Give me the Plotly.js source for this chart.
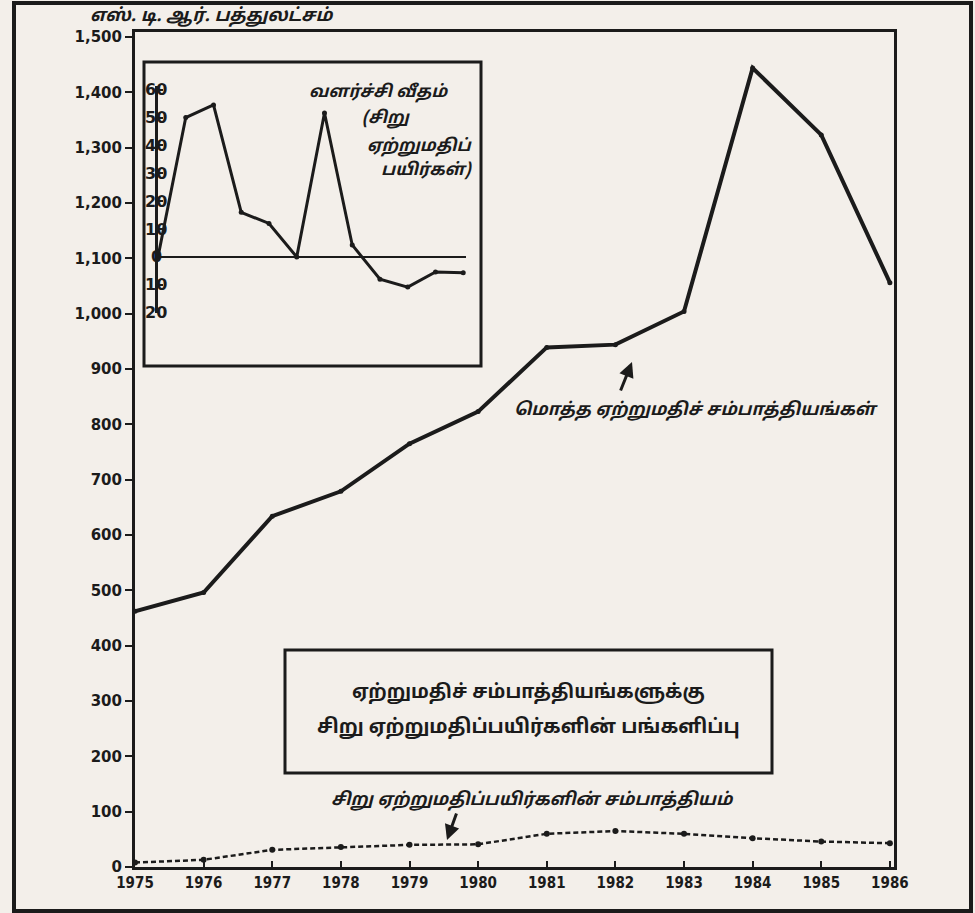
<!DOCTYPE html>
<html>
<head>
<meta charset="utf-8">
<script src="https://cdn.plot.ly/plotly-3.0.1.min.js"></script>
<style>html,body{margin:0;padding:0;background:#f3efea;}#chart{width:975px;height:913px;}</style>
</head>
<body>
<div id="chart"></div>
<script>
// ---- data ----
const years = [1975,1976,1977,1978,1979,1980,1981,1982,1983,1984,1985,1986];
const totalExportEarnings = [462,496,634,679,765,823,939,944,1004,1444,1323,1056];
const minorCropEarnings = [8,13,31,36,40,41,60,65,60,52,46,43];
const minorCropGrowth = [0,50,54.5,16,12,0,51.6,4.3,-8,-10.8,-5.4,-5.7];
const mainYTicks = [0,100,200,300,400,500,600,700,800,900,1000,1100,1200,1300,1400,1500];
const mainYTickText = ["0","100","200","300","400","500","600","700","800","900","1,000","1,100","1,200","1,300","1,400","1,500"];
const insetYTicks = [-20,-10,0,10,20,30,40,50,60];
const insetYTickText = ["20","10","0","10","20","30","40","50","60"];
const yTitle = "எஸ். டி. ஆர். பத்துலட்சம்";
const insetTitle = ["வளர்ச்சி வீதம்","(சிறு","ஏற்றுமதிப்","பயிர்கள்)"];
const totalLabel = "மொத்த ஏற்றுமதிச் சம்பாத்தியங்கள்";
const minorLabel = "சிறு ஏற்றுமதிப்பயிர்களின் சம்பாத்தியம்";
const boxTitle = ["ஏற்றுமதிச் சம்பாத்தியங்களுக்கு","சிறு ஏற்றுமதிப்பயிர்களின் பங்களிப்பு"];

// ---- layout helpers (pixel -> paper) ----
const L=135, R=81, T=32, B=46, W=975, H=913;
const PW=W-L-R, PH=H-T-B;
const px = x => (x-L)/PW;
const py = y => (H-B-y)/PH;
const ink = '#1b1b1b';
const tamilFont = '"Noto Sans Tamil","Lohit Tamil","Noto Sans",sans-serif';

const traces = [
  {x: years, y: totalExportEarnings, type:'scatter', mode:'lines+markers',
   line:{color:ink, width:4}, marker:{color:ink, size:5}, xaxis:'x', yaxis:'y', hoverinfo:'skip'},
  {x: years, y: minorCropEarnings, type:'scatter', mode:'lines+markers',
   line:{color:ink, width:2.5, dash:'5px,3px'}, marker:{color:ink, size:6}, xaxis:'x', yaxis:'y', hoverinfo:'skip'},
  {x: years, y: minorCropGrowth, type:'scatter', mode:'lines+markers',
   line:{color:ink, width:3}, marker:{color:ink, size:5}, xaxis:'x2', yaxis:'y2', hoverinfo:'skip'}
];

const insetTickAnnotations = insetYTicks.map((v, i) => ({
  xref:'paper', yref:'y2', x:px(156), y:v, xanchor:'center', yanchor:'middle', showarrow:false,
  text:'<b>'+insetYTickText[i]+'</b>',
  font:{family:'"DejaVu Sans",sans-serif', size:16, color:ink}
}));

const layout = {
  width: W, height: H,
  margin: {l:L, r:R, t:T, b:B, pad:0},
  paper_bgcolor: '#f3efea', plot_bgcolor: 'rgba(0,0,0,0)',
  showlegend: false,
  xaxis: {
    range: [1975, 1986.06], tickvals: years, ticktext: years.map(String),
    showgrid:false, zeroline:false, showline:true, mirror:true, linecolor:ink, linewidth:3,
    ticks:'inside', ticklen:6, tickwidth:2, tickcolor:ink,
    tickfont:{family:'"DejaVu Sans Condensed","DejaVu Sans",sans-serif', size:15, color:ink, weight:'bold'},
    fixedrange:true
  },
  yaxis: {
    range: [0, 1509], tickvals: mainYTicks, ticktext: mainYTickText,
    showgrid:false, zeroline:false, showline:true, mirror:true, linecolor:ink, linewidth:3,
    ticks:'outside', ticklen:7, tickwidth:2, tickcolor:ink,
    tickfont:{family:'"DejaVu Sans",sans-serif', size:15, color:ink, weight:'bold'},
    fixedrange:true
  },
  xaxis2: {
    domain:[px(158), px(466)], anchor:'y2', range:[1975, 1986.1],
    visible:false, fixedrange:true
  },
  yaxis2: {
    domain:[py(313), py(86)], anchor:'x2', range:[-20.1, 61.3],
    tickvals: insetYTicks, showticklabels:false,
    showgrid:false, showline:true, linecolor:ink, linewidth:3,
    zeroline:true, zerolinecolor:ink, zerolinewidth:2.5,
    ticks:'inside', ticklen:5, tickwidth:2, tickcolor:ink,
    fixedrange:true
  },
  shapes: [
    {type:'rect', xref:'paper', yref:'paper', x0:px(14), x1:px(971), y0:py(911), y1:py(3), line:{color:ink, width:4}},
    {type:'rect', xref:'paper', yref:'paper', x0:px(144), x1:px(481), y0:py(366), y1:py(62), line:{color:ink, width:3}},
    {type:'rect', xref:'paper', yref:'paper', x0:px(285), x1:px(772), y0:py(773), y1:py(650), line:{color:ink, width:3}}
  ],
  annotations: insetTickAnnotations.concat([
    {xref:'paper', yref:'paper', x:px(88), y:py(17), xanchor:'left', yanchor:'middle', showarrow:false,
     text:'<b><i>'+yTitle+'</i></b>', font:{family:tamilFont, size:18, color:ink}},
    {xref:'paper', yref:'paper', x:px(450), y:py(92), xanchor:'right', yanchor:'middle', showarrow:false,
     text:'<b><i>'+insetTitle[0]+'</i></b>', font:{family:tamilFont, size:17, color:ink}},
    {xref:'paper', yref:'paper', x:px(360), y:py(119), xanchor:'left', yanchor:'middle', showarrow:false,
     text:'<b><i>'+insetTitle[1]+'</i></b>', font:{family:tamilFont, size:17, color:ink}},
    {xref:'paper', yref:'paper', x:px(474), y:py(146), xanchor:'right', yanchor:'middle', showarrow:false,
     text:'<b><i>'+insetTitle[2]+'</i></b>', font:{family:tamilFont, size:17, color:ink}},
    {xref:'paper', yref:'paper', x:px(474), y:py(171), xanchor:'right', yanchor:'middle', showarrow:false,
     text:'<b><i>'+insetTitle[3]+'</i></b>', font:{family:tamilFont, size:17, color:ink}},
    {xref:'paper', yref:'paper', x:px(880), y:py(410), xanchor:'right', yanchor:'middle', showarrow:false,
     text:'<b><i>'+totalLabel+'</i></b>', font:{family:tamilFont, size:17.5, color:ink}},
    {xref:'paper', yref:'paper', x:px(632), y:py(362), ax:-12, ay:30, axref:'pixel', ayref:'pixel', text:'',
     showarrow:true, arrowhead:2, arrowsize:1, arrowwidth:3, arrowcolor:ink},
    {xref:'paper', yref:'paper', x:px(528), y:py(693), xanchor:'center', yanchor:'middle', showarrow:false,
     text:'<b>'+boxTitle[0]+'</b>', font:{family:tamilFont, size:19, color:ink}},
    {xref:'paper', yref:'paper', x:px(528), y:py(728), xanchor:'center', yanchor:'middle', showarrow:false,
     text:'<b>'+boxTitle[1]+'</b>', font:{family:tamilFont, size:19.5, color:ink}},
    {xref:'paper', yref:'paper', x:px(532), y:py(800), xanchor:'center', yanchor:'middle', showarrow:false,
     text:'<b><i>'+minorLabel+'</i></b>', font:{family:tamilFont, size:17.5, color:ink}},
    {xref:'paper', yref:'paper', x:px(447), y:py(840), ax:10, ay:-28, axref:'pixel', ayref:'pixel', text:'',
     showarrow:true, arrowhead:2, arrowsize:1, arrowwidth:3, arrowcolor:ink}
  ])
};

Plotly.newPlot('chart', traces, layout, {staticPlot:true, displayModeBar:false});
</script>
</body>
</html>
